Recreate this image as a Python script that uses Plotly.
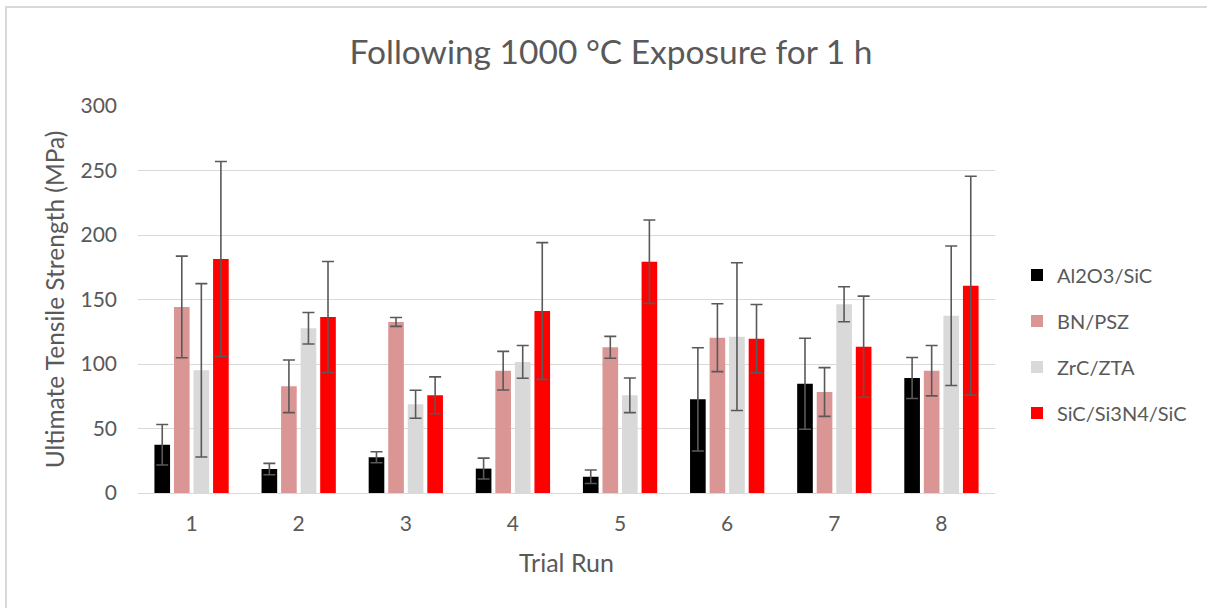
import plotly.graph_objects as go

# Trial runs on the category axis
trials = ["1", "2", "3", "4", "5", "6", "7", "8"]

# Mean ultimate tensile strength (MPa) and error-bar half widths per composite
al2o3_sic = [37.4, 18.6, 27.7, 18.9, 12.6, 72.6, 84.7, 89.1]
al2o3_sic_err = [15.7, 4.4, 4.3, 8.1, 5.2, 40.0, 35.3, 15.9]

bn_psz = [144.2, 82.7, 132.6, 94.8, 112.9, 120.4, 78.3, 94.8]
bn_psz_err = [39.4, 20.4, 3.4, 15.0, 8.5, 26.3, 18.9, 19.5]

zrc_zta = [95.1, 127.7, 68.8, 101.6, 75.7, 121.2, 146.3, 137.4]
zrc_zta_err = [67.2, 12.2, 10.8, 12.7, 13.4, 57.3, 13.6, 54.1]

sic_si3n4_sic = [181.4, 136.4, 75.7, 141.1, 179.3, 119.6, 113.4, 160.7]
sic_si3n4_sic_err = [75.6, 43.1, 14.3, 53.0, 32.3, 26.5, 39.2, 84.8]

series = [
    ("Al2O3/SiC", al2o3_sic, al2o3_sic_err, "#000000"),
    ("BN/PSZ", bn_psz, bn_psz_err, "#DA9694"),
    ("ZrC/ZTA", zrc_zta, zrc_zta_err, "#D9D9D9"),
    ("SiC/Si3N4/SiC", sic_si3n4_sic, sic_si3n4_sic_err, "#FF0000"),
]

FONT = "Lato"
TEXT = "#595959"
GRID = "#D9D9D9"

fig = go.Figure()
for i, (name, vals, errs, color) in enumerate(series):
    fig.add_trace(go.Bar(
        name=name,
        x=trials,
        y=vals,
        legendgroup=f"g{i}",
        marker=dict(color=color, line=dict(width=0)),
        error_y=dict(type="data", array=errs, visible=True,
                     color=TEXT, thickness=1.6, width=6),
    ))

# Plot area in pixels: x 138..995, y 106..493
W, H = 1207, 608
L, R, T, B = 138, 995, 106, 493

def px_x(p):
    return (p - L) / (R - L)

def px_y(p):
    return (B - p) / (B - T)

fig.update_layout(
    width=W, height=H,
    margin=dict(l=L, r=W - R, t=T, b=H - B, pad=0),
    paper_bgcolor="white",
    plot_bgcolor="white",
    barmode="group",
    bargap=0.27,
    bargroupgap=0.2,
    font=dict(family=FONT, color=TEXT),
    title=dict(
        text="Following 1000 °C Exposure for 1 h",
        font=dict(family=FONT, size=33.5, color=TEXT),
        x=611 / W, xref="container", xanchor="center",
        y=1 - 52 / H, yref="container", yanchor="middle",
    ),
    legend=dict(
        x=px_x(1017), xanchor="left",
        y=px_y(344), yanchor="middle",
        font=dict(family=FONT, size=20, color=TEXT),
        tracegroupgap=17,
        traceorder="grouped",
        itemwidth=30,
        bgcolor="rgba(0,0,0,0)",
    ),
    xaxis=dict(
        type="category",
        showgrid=False,
        showline=True, linecolor=GRID, linewidth=1,
        ticks="",
        tickfont=dict(family=FONT, size=21, color=TEXT),
        ticklabelstandoff=12,
        title=dict(text="Trial Run", font=dict(family=FONT, size=25, color=TEXT),
                   standoff=20),
    ),
    yaxis=dict(
        range=[0, 300],
        tickvals=[0, 50, 100, 150, 200, 250, 300],
        showgrid=True, gridcolor=GRID, gridwidth=1,
        zeroline=False,
        showline=False,
        ticks="",
        tickfont=dict(family=FONT, size=21, color=TEXT),
        ticklabelstandoff=20,
        title=dict(text="Ultimate Tensile Strength (MPa)",
                   font=dict(family=FONT, size=24.5, color=TEXT), standoff=8),
    ),
    shapes=[
        dict(type="rect", xref="paper", yref="paper",
             x0=px_x(6), x1=px_x(1216), y0=px_y(620), y1=px_y(7),
             line=dict(color=GRID, width=2), fillcolor="rgba(0,0,0,0)",
             layer="below"),
    ],
)

fig.write_html("out.html")
